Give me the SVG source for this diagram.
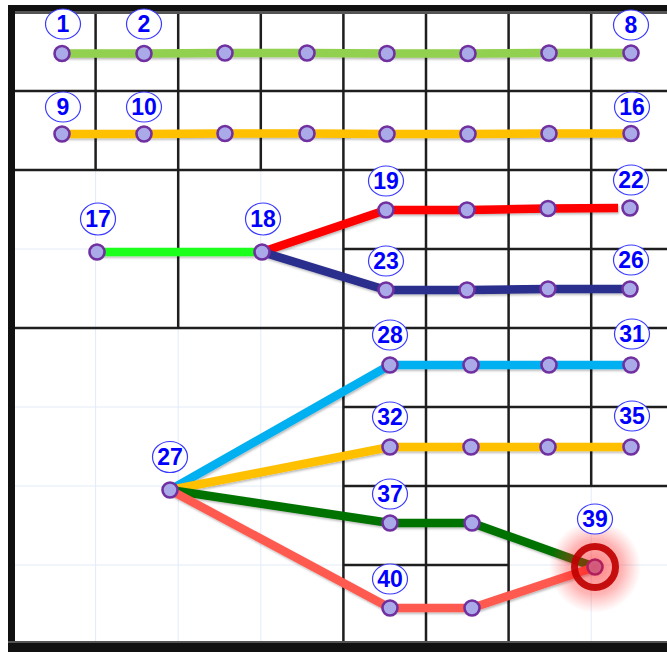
<svg xmlns="http://www.w3.org/2000/svg" width="667" height="653" viewBox="0 0 667 653">
<style>
.faint{stroke:#e3ebf8;stroke-width:1;fill:none}
.grid{stroke:#1e1e1e;stroke-width:2.5;fill:none}
.ln{fill:none;stroke-width:8.5;stroke-linejoin:round;filter:url(#sh)}
.nd{fill:#aaaae8;stroke:#7030a0;stroke-width:2.6}
.lb ellipse{fill:#fff;stroke:#3a3aff;stroke-width:1.2}
.lb text{font-family:"Liberation Sans",Arial,sans-serif;font-weight:bold;font-size:23px;fill:#0000ff;text-anchor:middle}
</style>
<defs>
<filter id="sh" filterUnits="userSpaceOnUse" x="0" y="0" width="667" height="653">
<feDropShadow dx="1" dy="1.5" stdDeviation="1" flood-color="#000" flood-opacity="0.3"/>
</filter>
<radialGradient id="glow">
<stop offset="0" stop-color="#ff0000" stop-opacity="0.5"/>
<stop offset="0.6" stop-color="#ff2020" stop-opacity="0.33"/>
<stop offset="1" stop-color="#ff4040" stop-opacity="0"/>
</radialGradient>
</defs>
<rect width="667" height="653" fill="#fff"/>
<g id="faint-grid">
<path class="faint" d="M95.6 12V644M178.2 12V644M260.8 12V644M343.4 12V644M426 12V644M508.6 12V644M591.2 12V644M13 91H667M13 170H667M13 249H667M13 328H667M13 407H667M13 486H667M13 565H667"/>
</g>
<g id="grid">
<path class="grid" d="M13 91H667M13 170H667M343.4 249H667M13 328H667M343.4 407H667M343.4 486H667M343.4 565H508.6M95.6 12V170M178.2 12V328M260.8 12V170M343.4 12V644M426 12V644M508.6 12V644M591.2 12V486"/>
</g>
<g id="border">
<rect x="8" y="10" width="659" height="4" fill="#555"/>
<rect x="8" y="5" width="659" height="6" fill="#111"/>
<rect x="8" y="5" width="7" height="647" fill="#111"/>
<rect x="8" y="641" width="659" height="2" fill="#555"/>
<rect x="8" y="643" width="659" height="9" fill="#111"/>
</g>
<g id="connectors">
<polyline class="ln" stroke="#92d050" points="62,53.5 144,53.5 225,53 307,53 387,53.5 468,53.5 549,53 631,53"/>
<polyline class="ln" stroke="#ffc000" points="62,134 144,134 225,133.5 307,133.5 387,134 468,134 549,133.5 631,133.5"/>
<polyline class="ln" stroke="#1eff1e" points="97,252 262,252"/>
<polyline class="ln" stroke="#ff0000" points="262,252 386,210 467,210 548,208.5 618,208"/>
<polyline class="ln" stroke="#2a2d8c" points="262,252 386,290 467,290 548,289 630,289"/>
<polyline class="ln" stroke="#00b0f0" points="170,490 390,365 471,365 549,365 631,365"/>
<polyline class="ln" stroke="#ffc000" points="170,490 390,447 471,447 548,447 631,447"/>
<polyline class="ln" stroke="#047204" points="170,490 390,523 472,523 595,567"/>
<polyline class="ln" stroke="#ff5a50" points="170,490 390,608 472,608 595,567"/>
</g>
<g id="node-1"><circle class="nd" cx="62" cy="53.5" r="7.5"/><g class="lb"><ellipse cx="63" cy="24" rx="17.5" ry="15"/><text x="63" y="32">1</text></g></g>
<g id="node-2"><circle class="nd" cx="144" cy="53.5" r="7.5"/><g class="lb"><ellipse cx="144" cy="24" rx="17.5" ry="15"/><text x="144" y="32">2</text></g></g>
<g id="node-3"><circle class="nd" cx="225" cy="53" r="7.5"/></g>
<g id="node-4"><circle class="nd" cx="307" cy="53" r="7.5"/></g>
<g id="node-5"><circle class="nd" cx="387" cy="53.5" r="7.5"/></g>
<g id="node-6"><circle class="nd" cx="468" cy="53.5" r="7.5"/></g>
<g id="node-7"><circle class="nd" cx="549" cy="53" r="7.5"/></g>
<g id="node-8"><circle class="nd" cx="631" cy="53" r="7.5"/><g class="lb"><ellipse cx="631" cy="25" rx="17.5" ry="15"/><text x="631" y="33">8</text></g></g>
<g id="node-9"><circle class="nd" cx="62" cy="134" r="7.5"/><g class="lb"><ellipse cx="63" cy="107" rx="17.5" ry="15"/><text x="63" y="115">9</text></g></g>
<g id="node-10"><circle class="nd" cx="144" cy="134" r="7.5"/><g class="lb"><ellipse cx="144" cy="107" rx="17.5" ry="15"/><text x="144" y="115">10</text></g></g>
<g id="node-11"><circle class="nd" cx="225" cy="133.5" r="7.5"/></g>
<g id="node-12"><circle class="nd" cx="307" cy="133.5" r="7.5"/></g>
<g id="node-13"><circle class="nd" cx="387" cy="134" r="7.5"/></g>
<g id="node-14"><circle class="nd" cx="468" cy="134" r="7.5"/></g>
<g id="node-15"><circle class="nd" cx="549" cy="133.5" r="7.5"/></g>
<g id="node-16"><circle class="nd" cx="631" cy="133.5" r="7.5"/><g class="lb"><ellipse cx="632" cy="107" rx="17.5" ry="15"/><text x="632" y="115">16</text></g></g>
<g id="node-17"><circle class="nd" cx="97" cy="252" r="7.5"/><g class="lb"><ellipse cx="98" cy="219" rx="17.5" ry="16"/><text x="98" y="227">17</text></g></g>
<g id="node-18"><circle class="nd" cx="262" cy="252" r="7.5"/><g class="lb"><ellipse cx="263" cy="219" rx="17.5" ry="16"/><text x="263" y="227">18</text></g></g>
<g id="node-19"><circle class="nd" cx="386" cy="210" r="7.5"/><g class="lb"><ellipse cx="386" cy="181" rx="17.5" ry="15"/><text x="386" y="189">19</text></g></g>
<g id="node-20"><circle class="nd" cx="467" cy="210" r="7.5"/></g>
<g id="node-21"><circle class="nd" cx="548" cy="208.5" r="7.5"/></g>
<g id="node-22"><circle class="nd" cx="630" cy="208" r="7.5"/><g class="lb"><ellipse cx="631" cy="180" rx="17.5" ry="15"/><text x="631" y="188">22</text></g></g>
<g id="node-23"><circle class="nd" cx="386" cy="290" r="7.5"/><g class="lb"><ellipse cx="386" cy="261" rx="17.5" ry="15"/><text x="386" y="269">23</text></g></g>
<g id="node-24"><circle class="nd" cx="467" cy="290" r="7.5"/></g>
<g id="node-25"><circle class="nd" cx="548" cy="289" r="7.5"/></g>
<g id="node-26"><circle class="nd" cx="630" cy="289" r="7.5"/><g class="lb"><ellipse cx="631" cy="260" rx="17.5" ry="15"/><text x="631" y="268">26</text></g></g>
<g id="node-27"><circle class="nd" cx="170" cy="490" r="7.5"/><g class="lb"><ellipse cx="170" cy="457" rx="17.5" ry="15.5"/><text x="170" y="465">27</text></g></g>
<g id="node-28"><circle class="nd" cx="390" cy="365" r="7.5"/><g class="lb"><ellipse cx="390" cy="335" rx="17.5" ry="15"/><text x="390" y="343">28</text></g></g>
<g id="node-29"><circle class="nd" cx="471" cy="365" r="7.5"/></g>
<g id="node-30"><circle class="nd" cx="549" cy="365" r="7.5"/></g>
<g id="node-31"><circle class="nd" cx="631" cy="365" r="7.5"/><g class="lb"><ellipse cx="632" cy="334" rx="17.5" ry="15"/><text x="632" y="342">31</text></g></g>
<g id="node-32"><circle class="nd" cx="390" cy="447" r="7.5"/><g class="lb"><ellipse cx="390" cy="417" rx="17.5" ry="15"/><text x="390" y="425">32</text></g></g>
<g id="node-33"><circle class="nd" cx="471" cy="447" r="7.5"/></g>
<g id="node-34"><circle class="nd" cx="548" cy="447" r="7.5"/></g>
<g id="node-35"><circle class="nd" cx="631" cy="447" r="7.5"/><g class="lb"><ellipse cx="632" cy="416" rx="17.5" ry="15"/><text x="632" y="424">35</text></g></g>
<g id="node-37"><circle class="nd" cx="390" cy="523" r="7.5"/><g class="lb"><ellipse cx="390" cy="494" rx="17.5" ry="15"/><text x="390" y="502">37</text></g></g>
<g id="node-38"><circle class="nd" cx="472" cy="523" r="7.5"/></g>
<g id="node-40"><circle class="nd" cx="390" cy="608" r="7.5"/><g class="lb"><ellipse cx="390" cy="579" rx="17.5" ry="15"/><text x="390" y="587">40</text></g></g>
<g id="node-41"><circle class="nd" cx="472" cy="608" r="7.5"/></g>
<g id="node-39">
<circle class="nd" cx="595" cy="567" r="7.5"/>
<circle cx="595" cy="567" r="46" fill="url(#glow)"/>
<circle cx="595" cy="567" r="20.5" fill="none" stroke="#c00000" stroke-width="7" stroke-opacity="0.92"/>
<g class="lb"><ellipse cx="595" cy="519" rx="17.5" ry="15"/><text x="595" y="527">39</text></g>
</g>
</svg>
